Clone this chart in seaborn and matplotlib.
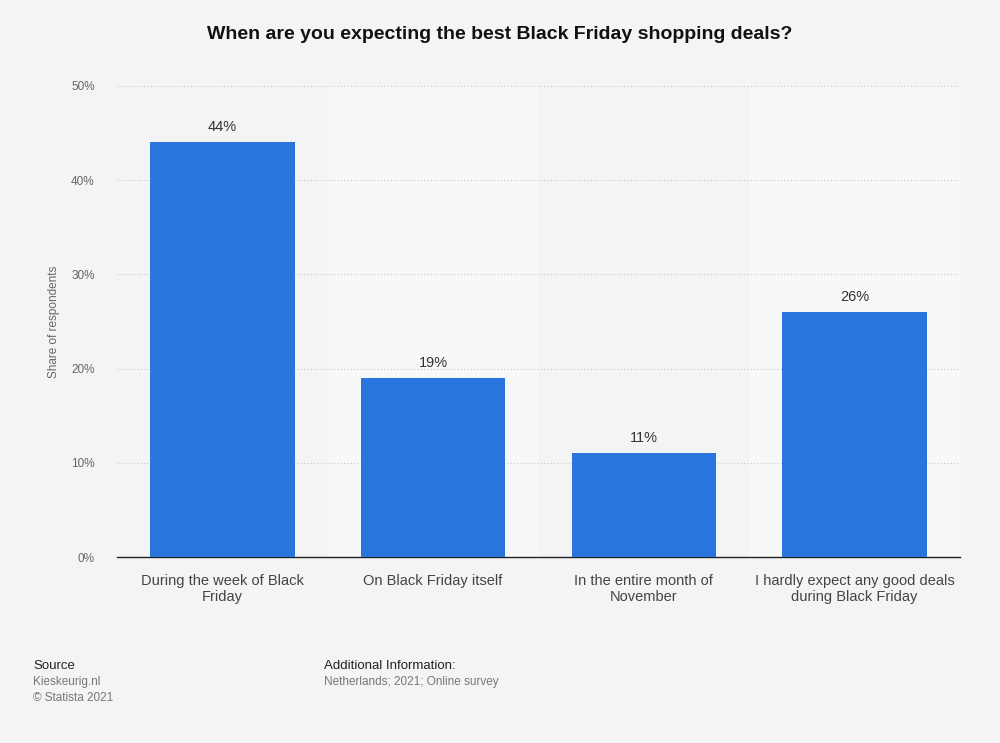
import numpy as np
import pandas as pd
import matplotlib
matplotlib.use("Agg")
import matplotlib.pyplot as plt
import seaborn as sns

categories = ["During the week of Black\nFriday", "On Black Friday itself",
              "In the entire month of\nNovember", "I hardly expect any good deals\nduring Black Friday"]
shares = [44, 19, 11, 26]
yticks = [0, 10, 20, 30, 40, 50]

df = pd.DataFrame({"Category": categories, "Share": shares})

sns.set_style("white")
plt.rcParams['font.family'] = ['Liberation Sans', 'DejaVu Sans']

bg = "#f4f4f4"
fig = plt.figure(figsize=(10, 7.43), dpi=100, facecolor=bg)
ax = fig.add_axes([0.117, 0.2503, 0.843, 0.634])
ax.set_facecolor(bg)

# lighter bands behind every second column
for i in range(len(categories)):
    if i % 2 == 1:
        ax.axvspan(i - 0.5, i + 0.5, color="#f8f8f8", zorder=0, lw=0)

sns.barplot(data=df, x="Category", y="Share", color="#2876dd", saturation=1,
            width=0.685, ax=ax, zorder=3, linewidth=0)

ax.set_xlim(-0.5, len(categories) - 0.5)
ax.set_ylim(0, 50)
ax.set_yticks(yticks)
ax.set_yticklabels([f"{t}%" for t in yticks], fontsize=8.5, color="#666666")
ax.tick_params(axis="y", length=0, pad=16)
ax.tick_params(axis="x", length=0, pad=12, labelsize=10.5, labelcolor="#444444")
for t in yticks[1:]:
    ax.axhline(t, color="#c8c8c8", lw=0.8, ls=(0, (1, 2)), zorder=1)

for sp in ["top", "right", "left"]:
    ax.spines[sp].set_visible(False)
ax.spines["bottom"].set_color("#222222")
ax.spines["bottom"].set_linewidth(1.0)

for i, v in enumerate(shares):
    ax.text(i, v + 0.9, f"{v}%", ha="center", va="bottom", fontsize=10.5, color="#333333")

ax.set_xlabel("")
ax.set_ylabel("Share of respondents", fontsize=8.5, color="#666666", labelpad=8)

fig.text(0.5, 0.953, "When are you expecting the best Black Friday shopping deals?",
         ha="center", va="center", fontsize=14, fontweight="bold", color="#111111")

fig.text(0.033, 0.104, "Source", fontsize=9.5, color="#222222", va="center")
fig.text(0.033, 0.082, "Kieskeurig.nl", fontsize=8.5, color="#777777", va="center")
fig.text(0.033, 0.061, "© Statista 2021", fontsize=8.5, color="#777777", va="center")
fig.text(0.324, 0.104, "Additional Information:", fontsize=9.5, color="#222222", va="center")
fig.text(0.324, 0.082, "Netherlands; 2021; Online survey", fontsize=8.5, color="#777777", va="center")

fig.savefig("out.png", dpi=100, facecolor=bg)
